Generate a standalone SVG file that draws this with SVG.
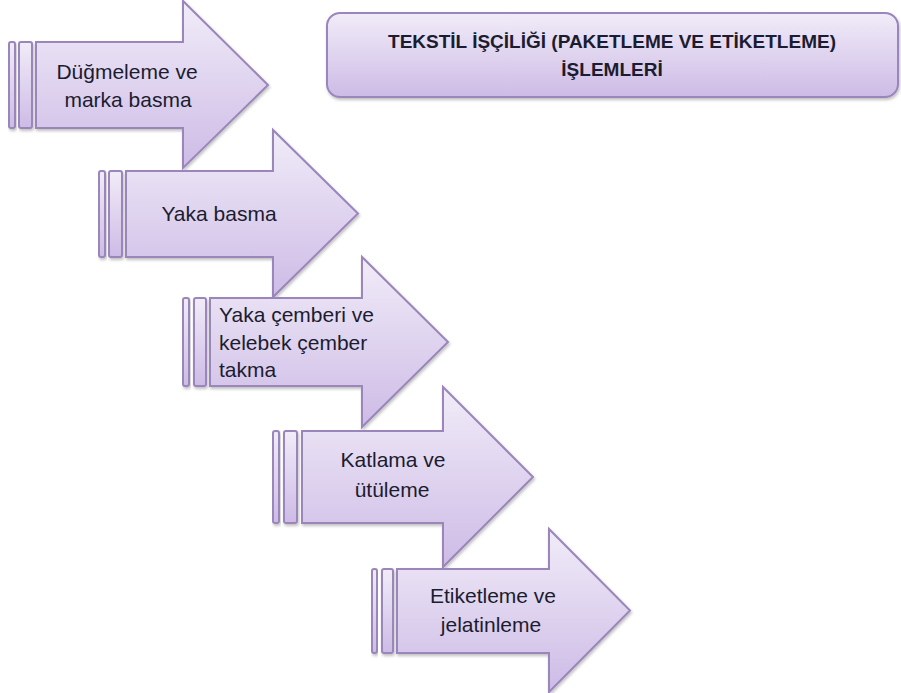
<svg xmlns="http://www.w3.org/2000/svg" width="901" height="693" viewBox="0 0 901 693">
<defs>
<linearGradient id="g" x1="0" y1="0" x2="0" y2="1">
<stop offset="0" stop-color="#f1ecf8"/>
<stop offset="1" stop-color="#cdbbe6"/>
</linearGradient>
<filter id="sh" x="-10%" y="-10%" width="130%" height="130%">
<feDropShadow dx="1" dy="2" stdDeviation="1.5" flood-color="#000" flood-opacity="0.25"/>
</filter>
</defs>
<style>
.s{fill:url(#g);stroke:#9a86bb;stroke-width:2;stroke-linejoin:miter;filter:url(#sh)}
.t{font-family:"Liberation Sans",Arial,sans-serif;font-size:21px;fill:#1c1c30}
.h{font-family:"Liberation Sans",Arial,sans-serif;font-size:19px;font-weight:bold;fill:#1c1c30;text-anchor:middle}
.c{text-anchor:middle}
</style>
<rect width="901" height="693" fill="#fff"/>
<g id="title">
<rect class="s" x="327" y="13" width="571" height="84" rx="13"/>
<text class="h" x="612" y="48">TEKSTİL İŞÇİLİĞİ (PAKETLEME VE ETİKETLEME)</text>
<text class="h" x="612" y="76">İŞLEMLERİ</text>
</g>
<g id="connectors"></g>
<g id="step1">
<rect class="s" x="9" y="42" width="6" height="86" rx="2"/>
<rect class="s" x="19" y="42" width="13" height="86" rx="2"/>
<path class="s" d="M36,42 H183 V1 L268,85 L183,168 V128 H36 Z"/>
<text class="t c" x="127" y="79">Düğmeleme ve</text>
<text class="t c" x="128" y="107">marka basma</text>
</g>
<g id="step2">
<rect class="s" x="99" y="171" width="6" height="86" rx="2"/>
<rect class="s" x="109" y="171" width="13" height="86" rx="2"/>
<path class="s" d="M126,171 H273 V130 L358,213.5 L273,297 V257 H126 Z"/>
<text class="t c" x="219" y="221">Yaka basma</text>
</g>
<g id="step3">
<rect class="s" x="183" y="298" width="6" height="88" rx="2"/>
<rect class="s" x="194" y="298" width="12" height="88" rx="2"/>
<path class="s" d="M210,298 H362 V257 L448,342 L362,427 V386 H210 Z"/>
<text class="t" x="219" y="322">Yaka çemberi ve</text>
<text class="t" x="219" y="350">kelebek çember</text>
<text class="t" x="219" y="377">takma</text>
</g>
<g id="step4">
<rect class="s" x="273" y="431" width="6" height="92" rx="2"/>
<rect class="s" x="284" y="431" width="13" height="92" rx="2"/>
<path class="s" d="M302,431 H443 V387 L533,477 L443,567 V523 H302 Z"/>
<text class="t c" x="393" y="467">Katlama ve</text>
<text class="t c" x="392" y="497">ütüleme</text>
</g>
<g id="step5">
<rect class="s" x="372" y="569" width="5" height="84" rx="2"/>
<rect class="s" x="382" y="569" width="11" height="84" rx="2"/>
<path class="s" d="M397,569 H549 V529 L630,610.5 L549,692 V653 H397 Z"/>
<text class="t c" x="493" y="603">Etiketleme ve</text>
<text class="t c" x="491" y="632">jelatinleme</text>
</g>
</svg>
